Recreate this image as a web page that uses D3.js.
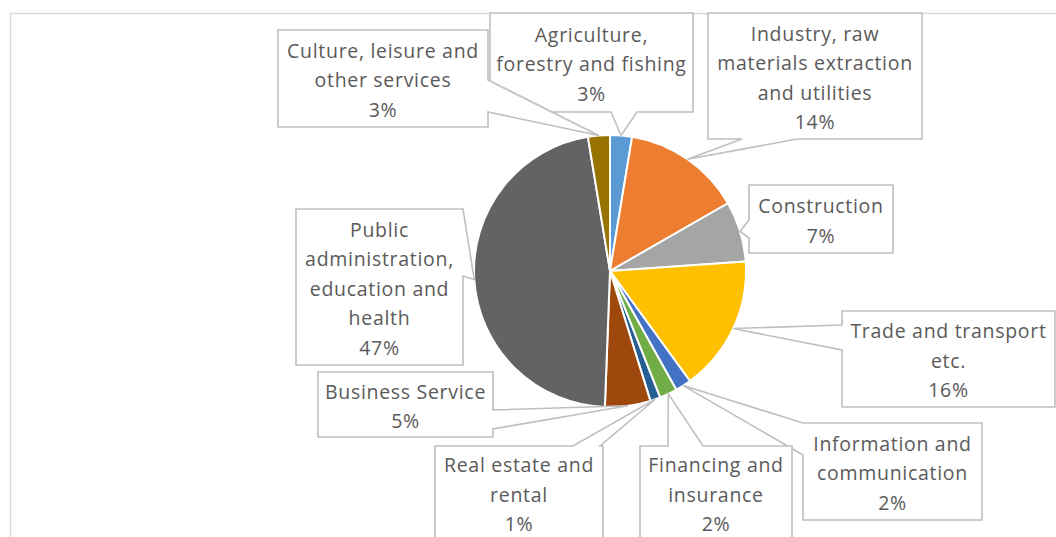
<!DOCTYPE html>
<html>
<head>
<meta charset="utf-8">
<script src="https://cdn.jsdelivr.net/npm/d3@7"></script>
<style>
  html, body { margin: 0; padding: 0; background: #ffffff; }
  svg { display: block; }
  text { font-family: "Open Sans", "DejaVu Sans", sans-serif; fill: #5a5a5a; }
</style>
</head>
<body>
<svg id="chart" width="1056" height="537"></svg>
<script>
// Employment share by sector (percent of total)
const categories = [
  "Agriculture, forestry and fishing",
  "Industry, raw materials extraction and utilities",
  "Construction",
  "Trade and transport etc.",
  "Information and communication",
  "Financing and insurance",
  "Real estate and rental",
  "Business Service",
  "Public administration, education and health",
  "Culture, leisure and other services"
];
const shares = [2.6, 14.1, 7.2, 16.1, 1.9, 2.1, 1.2, 5.4, 46.8, 2.6];
// Wrapped category text as shown in each callout
const labelLines = [
  ["Agriculture,", "forestry and fishing"],
  ["Industry, raw", "materials extraction", "and utilities"],
  ["Construction"],
  ["Trade and transport", "etc."],
  ["Information and", "communication"],
  ["Financing and", "insurance"],
  ["Real estate and", "rental"],
  ["Business Service"],
  ["Public", "administration,", "education and", "health"],
  ["Culture, leisure and", "other services"]
];
const colors = ["#5B9BD5", "#ED7D31", "#A5A5A5", "#FFC000", "#4472C4",
                "#70AD47", "#255E91", "#9E480E", "#636363", "#997300"];

// Callout box placement and the edge span the leader wedge leaves from
const callouts = [
  { x: 490, y: 13,  w: 203, h: 99,  edge: "bottom", a: 611, b: 637 },
  { x: 708, y: 13,  w: 214, h: 126, edge: "bottom", a: 742, b: 797 },
  { x: 749, y: 185, w: 144, h: 68,  edge: "left",   a: 220, b: 238 },
  { x: 842, y: 311, w: 213, h: 96,  edge: "left",   a: 325, b: 350 },
  { x: 803, y: 423, w: 179, h: 97,  edge: "left",   a: 423, b: 455 },
  { x: 640, y: 446, w: 152, h: 94,  edge: "top",    a: 668, b: 703 },
  { x: 435, y: 446, w: 168, h: 94,  edge: "top",    a: 573, b: 600 },
  { x: 318, y: 372, w: 175, h: 65,  edge: "right",  a: 410, b: 429 },
  { x: 296, y: 209, w: 167, h: 156, edge: "right",  a: 209, b: 276 },
  { x: 278, y: 30,  w: 210, h: 97,  edge: "right",  a: 80,  b: 112 }
];

const width = 1056, height = 537;
const cx = 610, cy = 271, radius = 136;
const lineGap = 29.4;

const svg = d3.select("#chart");

// Chart area frame
svg.append("rect")
  .attr("x", 10.5).attr("y", 13.5)
  .attr("width", 1200).attr("height", 700)
  .attr("fill", "#ffffff")
  .attr("stroke", "#d9d9d9").attr("stroke-width", 1.5);

const pie = d3.pie().sort(null).value(d => d);
const arcs = pie(shares);
const arc = d3.arc().innerRadius(0).outerRadius(radius);

const g = svg.append("g").attr("transform", `translate(${cx},${cy})`);
g.selectAll("path.slice")
  .data(arcs)
  .join("path")
  .attr("class", "slice")
  .attr("d", arc)
  .attr("fill", (d, i) => colors[i])
  .attr("stroke", "#ffffff")
  .attr("stroke-width", 2)
  .attr("stroke-linejoin", "round");

// Leader tip: point on the rim at the middle of each slice
function tipOf(d) {
  const m = (d.startAngle + d.endAngle) / 2;
  return [cx + radius * Math.sin(m), cy - radius * Math.cos(m)];
}

function calloutPath(c, tip) {
  const p = d3.path();
  const x0 = c.x, y0 = c.y, x1 = c.x + c.w, y1 = c.y + c.h;
  p.moveTo(x0, y0);
  if (c.edge === "top") { p.lineTo(c.a, y0); p.lineTo(tip[0], tip[1]); p.lineTo(c.b, y0); }
  p.lineTo(x1, y0);
  if (c.edge === "right") { p.lineTo(x1, c.a); p.lineTo(tip[0], tip[1]); p.lineTo(x1, c.b); }
  p.lineTo(x1, y1);
  if (c.edge === "bottom") { p.lineTo(c.b, y1); p.lineTo(tip[0], tip[1]); p.lineTo(c.a, y1); }
  p.lineTo(x0, y1);
  if (c.edge === "left") { p.lineTo(x0, c.b); p.lineTo(tip[0], tip[1]); p.lineTo(x0, c.a); }
  p.closePath();
  return p.toString();
}

const pct = v => Math.round(v) + "%";

const labels = svg.append("g");
arcs.forEach((d, i) => {
  const c = callouts[i];
  labels.append("path")
    .attr("d", calloutPath(c, tipOf(d)))
    .attr("fill", "#ffffff")
    .attr("stroke", "#bfbfbf")
    .attr("stroke-width", 1.6)
    .attr("stroke-linejoin", "miter");

  const lines = labelLines[i].concat([pct(shares[i])]);
  const midY = c.y + c.h / 2 + 2;
  const firstY = midY - (lines.length - 1) * lineGap / 2;
  const t = labels.append("text")
    .attr("text-anchor", "middle")
    .attr("font-size", 19.5)
    .attr("letter-spacing", 0.7);
  lines.forEach((s, k) => {
    t.append("tspan")
      .attr("x", c.x + c.w / 2)
      .attr("y", firstY + k * lineGap)
      .attr("dy", "0.35em")
      .text(s);
  });
});
</script>
</body>
</html>
